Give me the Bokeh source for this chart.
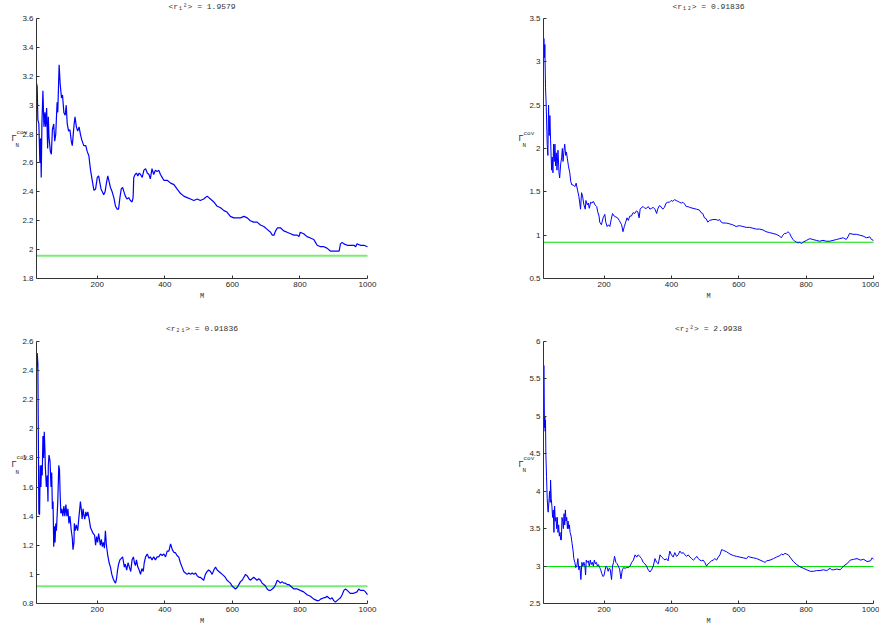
from bokeh.plotting import figure
from bokeh.layouts import column, row
from bokeh.models import Range1d, FixedTicker, CustomJSTickFormatter, Label, ColumnDataSource
from bokeh.embed import file_html
from bokeh.resources import INLINE

# ---------------- data ----------------
titles = ["<r\u2081\u00b2> = 1.9579", "<r\u2081\u2082> = 0.91836",
          "<r\u2082\u2081> = 0.91836", "<r\u2082\u00b2> = 2.9938"]
means = [1.9579, 0.91836, 0.91836, 2.9938]
x_label = "M"
y_label = ("\u0393", "cov", "N")
x_start, x_end = 20, 1000
x_ticks = [200, 400, 600, 800, 1000]
y_ticks_1 = [1.8, 2.0, 2.2, 2.4, 2.6, 2.8, 3.0, 3.2, 3.4, 3.6]
y_ticks_2 = [0.5, 1.0, 1.5, 2.0, 2.5, 3.0, 3.5]
y_ticks_3 = [0.8, 1.0, 1.2, 1.4, 1.6, 1.8, 2.0, 2.2, 2.4, 2.6]
y_ticks_4 = [2.5, 3.0, 3.5, 4.0, 4.5, 5.0, 5.5, 6.0]

m1 = [20,22,24,27,30,32,34,36,39,42,45,47,50,53,55,57,61,64,67,71,74,77,81,83,87,90,94,97,101,105,108,111,115,119,123,126,131,134,138,142,146,150,154,160,166,170,175,180,185,190,195,200,204,207,211,215,219,223,227,231,235,239,244,249,254,259,263,267,271,275,279,283,288,293,298,303,306,308,312,316,320,324,328,333,338,343,348,353,357,362,367,372,377,382,387,392,397,407,417,427,436,446,456,466,476,486,496,505,515,525,535,545,555,565,575,584,594,604,614,624,634,644,653,663,673,683,693,703,713,718,723,728,733,743,752,762,772,782,792,797,801,811,821,831,841,846,851,861,871,880,890,900,910,916,920,925,930,940,950,960,965,969,979,989,1000]
g1 = [3.15,3.13,2.90,2.87,2.60,2.77,2.50,2.87,3.10,2.85,2.95,2.85,2.98,2.70,2.92,2.78,2.68,2.66,2.83,2.87,2.75,2.80,3.02,2.95,3.28,3.15,3.05,3.07,2.95,2.93,3.00,2.87,2.82,2.83,2.75,2.72,2.86,2.92,2.85,2.82,2.85,2.80,2.76,2.72,2.72,2.68,2.65,2.55,2.48,2.41,2.42,2.50,2.51,2.47,2.42,2.40,2.38,2.40,2.46,2.51,2.47,2.43,2.40,2.36,2.30,2.28,2.28,2.36,2.42,2.43,2.40,2.37,2.35,2.36,2.34,2.33,2.36,2.50,2.52,2.53,2.51,2.53,2.52,2.50,2.55,2.56,2.53,2.52,2.49,2.56,2.52,2.55,2.54,2.55,2.52,2.50,2.48,2.48,2.46,2.45,2.42,2.39,2.37,2.36,2.35,2.34,2.35,2.34,2.35,2.37,2.35,2.33,2.30,2.29,2.27,2.26,2.23,2.22,2.22,2.22,2.23,2.22,2.20,2.19,2.19,2.17,2.16,2.14,2.12,2.10,2.10,2.13,2.15,2.15,2.13,2.12,2.11,2.10,2.10,2.09,2.12,2.11,2.09,2.08,2.07,2.05,2.03,2.02,2.02,2.01,1.99,1.99,1.99,1.99,2.04,2.05,2.04,2.03,2.03,2.03,2.02,2.04,2.03,2.03,2.02]

m2 = [20,21,23,24,26,28,30,31,33,35,37,39,41,44,46,48,50,52,54,56,58,60,63,66,68,71,74,76,78,81,83,86,88,91,94,98,101,104,108,113,117,121,125,128,130,133,136,140,144,146,150,153,156,160,164,168,173,178,181,185,187,192,197,202,205,209,213,217,221,225,230,235,240,245,249,252,256,260,264,268,272,276,281,286,291,296,300,304,307,311,316,321,326,331,336,341,346,351,356,359,364,369,374,379,384,389,394,399,404,409,414,419,424,429,434,439,444,449,454,464,474,483,488,493,498,503,508,513,523,533,538,543,548,553,563,573,582,592,602,612,622,632,642,652,662,672,681,691,701,711,721,726,731,736,741,746,751,756,761,766,771,776,781,786,791,801,811,820,830,840,850,860,870,880,890,900,910,915,919,924,929,939,949,959,969,979,989,994,1000]
g2 = [2.90,3.27,3.05,3.20,2.70,2.50,2.20,2.05,1.92,2.50,2.15,2.38,2.10,1.75,1.90,1.72,2.05,1.85,2.05,1.80,1.95,1.75,1.98,1.72,1.66,1.82,1.90,2.00,1.85,1.98,2.05,1.92,1.96,1.88,1.80,1.72,1.62,1.58,1.58,1.56,1.60,1.52,1.45,1.36,1.30,1.49,1.45,1.35,1.30,1.40,1.35,1.37,1.31,1.38,1.37,1.39,1.35,1.33,1.27,1.22,1.15,1.12,1.20,1.24,1.15,1.10,1.12,1.10,1.18,1.25,1.22,1.21,1.20,1.17,1.14,1.12,1.04,1.10,1.15,1.20,1.17,1.22,1.22,1.26,1.25,1.28,1.27,1.20,1.30,1.32,1.33,1.31,1.31,1.33,1.30,1.31,1.32,1.30,1.25,1.30,1.34,1.33,1.30,1.32,1.37,1.38,1.38,1.40,1.39,1.41,1.40,1.39,1.38,1.37,1.38,1.36,1.33,1.33,1.32,1.31,1.30,1.29,1.26,1.25,1.20,1.19,1.15,1.17,1.18,1.18,1.17,1.18,1.15,1.14,1.14,1.13,1.12,1.10,1.11,1.10,1.09,1.09,1.08,1.07,1.07,1.06,1.04,1.03,1.02,1.01,0.99,0.97,1.00,1.02,1.02,1.04,1.02,0.98,0.95,0.93,0.92,0.91,0.92,0.90,0.92,0.94,0.96,0.95,0.94,0.93,0.94,0.93,0.93,0.94,0.95,0.96,0.97,0.96,0.95,0.98,1.02,1.01,1.01,1.00,0.99,0.97,0.98,0.95,0.94]

m3 = [20,22,24,25,27,29,31,33,35,37,39,41,43,45,46,49,52,54,55,57,60,63,65,67,69,71,73,75,77,79,81,83,86,88,90,92,95,98,101,104,107,110,113,116,119,123,126,128,131,132,135,138,142,145,148,150,153,155,158,160,163,166,169,172,176,180,184,188,192,195,198,201,204,206,209,212,215,218,221,224,227,231,235,239,243,247,251,254,257,260,263,267,271,275,278,280,283,287,291,295,299,303,307,310,313,316,320,324,328,332,336,339,343,348,353,357,362,367,372,377,382,387,392,397,402,407,412,417,422,427,431,436,441,446,451,456,461,466,471,476,481,486,491,496,501,505,510,515,520,525,530,535,540,545,550,555,560,565,570,575,579,584,589,594,599,604,609,614,619,624,629,634,639,644,649,653,658,663,668,673,678,683,688,693,698,703,708,713,718,723,728,733,738,742,747,752,757,762,767,772,777,782,792,801,811,821,831,841,851,856,861,871,875,880,885,890,895,900,905,910,915,920,925,930,935,940,949,959,969,974,979,989,994,1000]
g3 = [2.40,2.52,2.45,2.10,1.42,1.41,1.75,1.60,1.75,1.68,1.95,1.80,1.98,1.85,1.75,1.60,1.68,1.50,1.75,1.82,1.78,1.60,1.70,1.45,1.50,1.19,1.33,1.22,1.35,1.30,1.40,1.50,1.75,1.72,1.55,1.42,1.45,1.40,1.47,1.40,1.48,1.40,1.45,1.35,1.40,1.30,1.25,1.17,1.22,1.35,1.30,1.34,1.30,1.38,1.45,1.50,1.44,1.38,1.45,1.41,1.38,1.43,1.40,1.43,1.38,1.32,1.30,1.28,1.27,1.20,1.26,1.22,1.28,1.25,1.20,1.24,1.19,1.22,1.18,1.30,1.20,1.13,1.08,1.05,1.00,0.97,0.95,0.94,0.97,1.03,1.07,1.10,1.11,1.12,1.08,1.05,1.07,1.03,1.08,1.05,1.02,1.10,1.12,1.08,1.06,1.10,1.05,1.03,1.00,1.04,1.02,1.08,1.12,1.14,1.11,1.12,1.10,1.12,1.10,1.12,1.12,1.14,1.13,1.14,1.12,1.16,1.16,1.21,1.17,1.15,1.15,1.13,1.12,1.08,1.05,1.02,1.01,1.00,1.01,1.00,1.01,1.00,1.01,0.99,0.98,0.98,0.97,0.96,1.00,1.02,1.03,1.02,1.00,1.03,1.05,1.03,1.02,1.01,1.00,0.99,0.98,0.96,0.95,0.94,0.92,0.91,0.90,0.91,0.93,0.95,0.96,0.98,1.00,0.99,0.97,0.96,0.97,0.98,0.97,0.96,0.97,0.96,0.94,0.93,0.92,0.90,0.89,0.89,0.90,0.91,0.93,0.96,0.95,0.94,0.95,0.94,0.94,0.93,0.93,0.92,0.91,0.90,0.90,0.89,0.88,0.86,0.85,0.83,0.82,0.82,0.83,0.84,0.84,0.85,0.84,0.83,0.84,0.82,0.81,0.82,0.83,0.84,0.86,0.89,0.90,0.89,0.87,0.87,0.88,0.90,0.89,0.89,0.88,0.86]

m4 = [20,21,22,23,24,25,26,27,29,31,33,34,36,38,40,41,43,45,47,49,51,53,55,57,59,61,63,65,67,69,71,73,75,77,79,81,83,85,87,89,91,93,95,97,99,102,105,108,110,113,116,119,122,125,128,131,134,137,140,143,145,147,150,153,156,159,162,165,168,171,174,177,180,183,187,190,193,197,200,203,206,209,212,215,218,222,225,228,231,235,239,242,246,250,254,258,262,267,272,277,282,287,292,297,301,306,311,316,321,326,331,336,341,346,351,356,361,366,371,376,381,385,390,395,400,405,410,415,420,425,430,435,440,445,450,455,460,465,470,475,480,484,489,494,499,504,509,514,519,524,529,534,539,544,549,554,559,564,574,584,593,603,613,623,628,633,643,653,663,673,678,683,693,703,712,722,727,732,737,742,747,752,762,772,782,792,802,812,822,831,841,851,861,871,876,881,891,901,911,921,931,941,951,961,971,981,991,996,1000]
g4 = [5.00,5.68,5.30,4.85,5.00,4.80,4.95,4.50,4.20,3.90,3.75,3.72,3.85,4.00,3.85,4.15,3.90,3.80,3.65,3.75,3.45,3.80,3.60,3.65,3.50,3.65,3.45,3.55,3.40,3.45,3.35,3.35,3.65,3.60,3.50,3.70,3.55,3.75,3.60,3.65,3.50,3.60,3.50,3.55,3.45,3.40,3.30,3.20,3.10,3.05,2.98,3.00,3.10,2.95,3.00,2.82,3.05,3.00,3.05,3.00,2.88,3.08,3.05,3.07,3.00,3.08,3.02,3.05,3.00,3.08,3.03,3.05,3.00,3.02,2.98,2.95,2.90,2.86,2.88,2.95,3.00,2.98,2.93,2.97,2.96,2.82,3.00,3.05,3.13,3.05,3.03,3.00,2.96,2.83,2.95,2.98,2.97,2.98,2.98,3.00,3.05,3.08,3.15,3.12,3.15,3.13,3.10,3.05,3.03,3.00,2.95,2.92,2.95,3.00,3.10,3.05,3.03,3.15,3.12,3.10,3.08,3.10,3.07,3.20,3.15,3.12,3.18,3.13,3.15,3.20,3.17,3.18,3.15,3.13,3.15,3.12,3.10,3.08,3.10,3.13,3.10,3.08,3.07,3.08,3.05,3.00,3.03,3.05,3.07,3.08,3.10,3.08,3.12,3.15,3.22,3.21,3.20,3.19,3.16,3.14,3.13,3.12,3.11,3.10,3.13,3.12,3.11,3.10,3.08,3.06,3.05,3.07,3.08,3.10,3.12,3.14,3.16,3.15,3.17,3.16,3.15,3.12,3.06,3.02,2.99,2.97,2.95,2.93,2.93,2.94,2.94,2.95,2.94,2.97,2.95,2.95,2.96,2.95,3.00,3.03,3.08,3.09,3.10,3.08,3.09,3.06,3.07,3.11,3.09]

series = [(m1, g1), (m2, g2), (m3, g3), (m4, g4)]
y_ticks = [y_ticks_1, y_ticks_2, y_ticks_3, y_ticks_4]

# ---------------- layout / style ----------------
# (fig width, fig height, y-axis px from fig left, x-end px, top-tick px from fig top,
#  x-axis px from fig top, title centre px from fig top)
geo = [(500, 310, 36, 367, 18, 278, 6),
       (379, 310, 43, 873 - 500, 18, 278, 6),
       (500, 318, 36, 367, 31, 293, 18),
       (379, 318, 43, 873 - 500, 31, 293, 18)]
# data-y positions of the Gamma label pieces
gam_y = [(2.77, 2.81, 2.72), (2.12, 2.17, 2.04), (1.76, 1.80, 1.70), (4.37, 4.44, 4.28)]
green = ["#78ec78", "#00e000", "#78ec78", "#00e000"]
green_w = [2, 1, 2, 1]
blue_w = [1.2, 1.0, 1.2, 1.0]

fmt = CustomJSTickFormatter(code="return String(Math.round(tick*10)/10);")
AX = "#333333"
TXT = "#333333"

figs = []
for i in range(4):
    w, h, axpx, xe, ytop, ybot, tpx = geo[i]
    yt = y_ticks[i]
    sx = (xe - axpx) / (x_end - x_start)            # px per M unit
    sy = (ybot - ytop) / (yt[-1] - yt[0])           # px per y unit
    x_lo = x_start - axpx / sx
    x_hi = x_end + (w - xe) / sx
    y_hi = yt[-1] + ytop / sy
    y_lo = yt[0] - (h - ybot) / sy
    p = figure(width=w, height=h, output_backend="svg", toolbar_location=None,
               x_range=Range1d(x_lo, x_hi), y_range=Range1d(y_lo, y_hi),
               min_border=0, outline_line_color=None)
    p.grid.visible = False

    p.xaxis.ticker = FixedTicker(ticks=x_ticks)
    p.xaxis.bounds = (x_start, x_end)
    p.xaxis.fixed_location = yt[0]
    p.yaxis.ticker = FixedTicker(ticks=yt)
    p.yaxis.bounds = (yt[0], yt[-1])
    p.yaxis.formatter = fmt
    p.yaxis.fixed_location = x_start
    for ax in (p.xaxis, p.yaxis):
        ax.major_tick_in = 3
        ax.major_tick_out = 0
        ax.minor_tick_line_color = None
        ax.axis_line_color = AX
        ax.major_tick_line_color = AX
        ax.major_label_text_font = "Liberation Sans"
        ax.major_label_text_font_size = "8px"
        ax.major_label_text_color = "#262626"
        ax.major_label_standoff = 3
    p.xaxis.axis_label = x_label
    p.xaxis.axis_label_text_font = "Liberation Mono"
    p.xaxis.axis_label_text_font_size = "7px"
    p.xaxis.axis_label_text_font_style = "normal"
    p.xaxis.axis_label_text_color = TXT
    p.xaxis.axis_label_standoff = 2

    m, g = series[i]
    src = ColumnDataSource(dict(m=m, g=g))
    p.line([x_start, x_end], [means[i], means[i]], line_color=green[i], line_width=green_w[i])
    p.line("m", "g", source=src, line_color="#0000ff", line_width=blue_w[i])

    # title
    p.add_layout(Label(x=(x_start + x_end) / 2, y=h - tpx, y_units="screen", text=titles[i],
                       text_font="Liberation Mono", text_font_size="8px", text_align="center",
                       text_baseline="middle", text_color=TXT))
    # Gamma_N^cov
    gy, syy, ny = gam_y[i]
    p.add_layout(Label(x=x_start, y=gy, x_offset=-25, text=y_label[0], text_font="Liberation Sans",
                       text_font_size="9px", text_baseline="middle", text_color=TXT))
    p.add_layout(Label(x=x_start, y=syy, x_offset=-20, text=y_label[1], text_font="Liberation Mono",
                       text_font_size="6px", text_baseline="middle", text_color=TXT))
    p.add_layout(Label(x=x_start, y=ny, x_offset=-21, text=y_label[2], text_font="Liberation Mono",
                       text_font_size="6px", text_baseline="middle", text_color=TXT))
    figs.append(p)

layout = column(row(figs[0], figs[1], spacing=0), row(figs[2], figs[3], spacing=0), spacing=0)
open("out.html", "w").write(file_html(layout, INLINE))
